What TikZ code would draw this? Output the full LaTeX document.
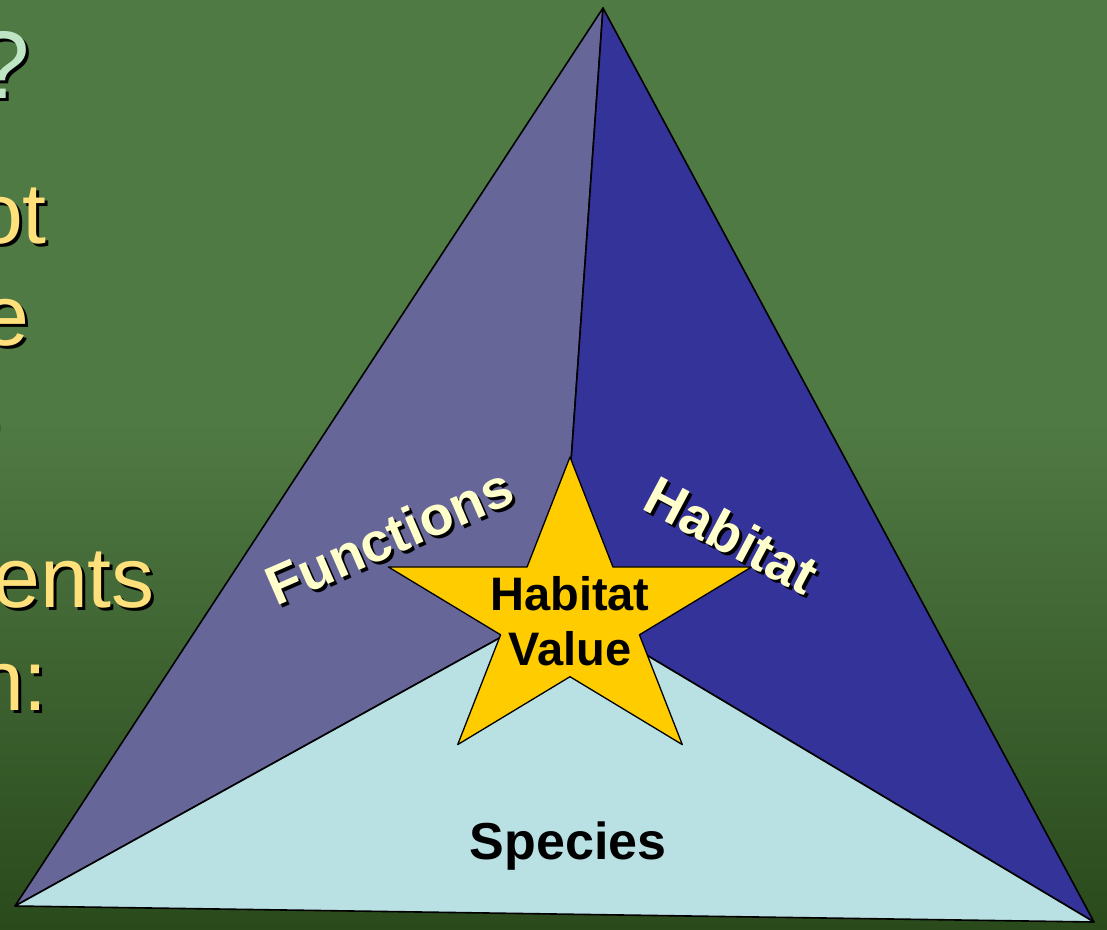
\documentclass[tikz,border=0pt]{standalone}
\usepackage{fontspec}
\setmainfont{Liberation Sans}
\definecolor{bgtop}{RGB}{80,122,68}
\definecolor{bgbot}{RGB}{42,74,28}
\definecolor{funcc}{RGB}{102,102,153}
\definecolor{habc}{RGB}{51,51,153}
\definecolor{specc}{RGB}{185,224,227}
\definecolor{starc}{RGB}{255,204,0}
\definecolor{lefty}{RGB}{255,224,122}
\definecolor{leftg}{RGB}{190,230,196}
\definecolor{labelc}{RGB}{255,255,204}
\begin{document}
\begin{tikzpicture}[x=1pt,y=-1pt,
  facet/.style={draw=black,line width=1.6pt,line join=round},
  bodytext/.style={inner sep=0pt,anchor=base east,font=\fontsize{86}{86}\selectfont},
  bodyshadow/.style={bodytext,text=black},
  bodyfront/.style={bodytext,text=lefty},
  facetlabel/.style={inner sep=0pt,font=\bfseries\fontsize{55}{55}\selectfont},
  innerlabel/.style={inner sep=0pt,font=\bfseries\fontsize{47}{55}\selectfont,align=center,text=black}]
\useasboundingbox (0,0) rectangle (1107,929);
\clip (0,0) rectangle (1107,929);
% background
\fill[bgtop] (0,0) rectangle (1107,929);
\shade[top color=bgtop,bottom color=bgbot] (0,420) rectangle (1107,929);

% left text fragments
\node[bodyshadow,font=\fontsize{96}{96}\selectfont] at (33,101) {?};
\node[bodytext,text=leftg,font=\fontsize{96}{96}\selectfont] (q) at (30,98) {?};
\node[bodyshadow] at (50,246) {ot};
\node[bodyfront] (l1) at (47,243) {ot};
\node[bodyshadow] at (5,451) {o};
\node[bodyshadow] at (33,348) {e};
\node[bodyfront] (l2) at (30,345) {e};
\node[bodyfront] (l3) at (0,448) {o};
\node[bodyshadow] at (158,610) {ents};
\node[bodyfront] (l4) at (155,607) {ents};
\node[bodyshadow] at (51,713) {n:};
\node[bodyfront] (l5) at (48,710) {n:};

% triangle
\coordinate (A) at (603,8);
\coordinate (BL) at (15,906);
\coordinate (BR) at (1094,922);
\coordinate (C) at (561,604);
\filldraw[facet,fill=funcc] (A) -- (C) -- (BL) -- cycle;
\filldraw[facet,fill=habc] (A) -- (BR) -- (C) -- cycle;
\filldraw[facet,fill=specc] (BL) -- (C) -- (BR) -- cycle;

% star
\filldraw[facet,line width=1.3pt,fill=starc]
  (570,457) -- (612.9,566.9) -- (751.7,566.9) -- (639.4,634.8) -- (682.3,744.6)
  -- (570,676.7) -- (457.7,744.6) -- (500.6,634.8) -- (388.3,566.9)
  -- (527.1,566.9) -- cycle;

% labels
\node[facetlabel,rotate=23.5,text=black] at (392,539) {Functions};
\node[facetlabel,rotate=23.5,text=labelc] (func) at (389,536) {Functions};
\node[facetlabel,rotate=-28,text=black] at (735,538) {Habitat};
\node[facetlabel,rotate=-28,text=labelc] (hab) at (732,535) {Habitat};
\node[innerlabel] (hv) at (570,621) {Habitat\\Value};
\node[inner sep=0pt,anchor=base,font=\bfseries\fontsize{52}{52}\selectfont] (spec) at (568,859) {Species};
\end{tikzpicture}
\end{document}
